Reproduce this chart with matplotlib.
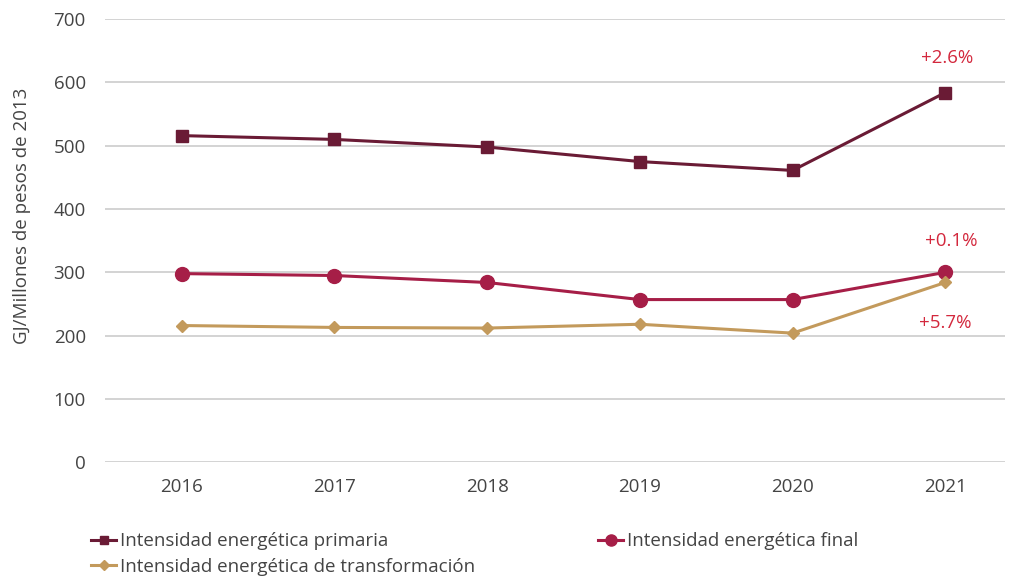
import matplotlib
matplotlib.use("Agg")
import matplotlib.pyplot as plt
from matplotlib.lines import Line2D

# Energy intensity series (GJ per million pesos of 2013)
years = ["2016", "2017", "2018", "2019", "2020", "2021"]
primaria = [516, 510, 498, 475, 461, 584]
final = [298, 295, 284, 257, 257, 300]
transformacion = [216, 213, 212, 218, 204, 284]

labels = ["Intensidad energética primaria",
          "Intensidad energética final",
          "Intensidad energética de transformación"]
changes = ["+2.6%", "+0.1%", "+5.7%"]

yticks = [0, 100, 200, 300, 400, 500, 600, 700]

c_prim = "#6a1b35"
c_final = "#a61e47"
c_trans = "#c39a5c"
c_note = "#d3283d"
c_text = "#444444"

plt.rcParams["font.family"] = ["Open Sans", "DejaVu Sans"]

fig = plt.figure(figsize=(10.12, 5.8), dpi=100)
ax = fig.add_axes([0.104, 0.203, 0.889, 0.764])

x = list(range(len(years)))
ax.plot(x, primaria, color=c_prim, lw=2.2, marker="s", ms=8, zorder=3)
ax.plot(x, final, color=c_final, lw=2.2, marker="o", ms=10, zorder=3)
ax.plot(x, transformacion, color=c_trans, lw=2.2, marker="D", ms=6, zorder=3)

ax.set_xlim(-0.5, 5.39)
ax.set_ylim(0, 700)
ax.set_yticks(yticks)
ax.set_xticks(x)
ax.set_xticklabels(years)
ax.yaxis.grid(True, color="#cccccc", lw=1.2)
ax.set_axisbelow(True)
for s in ax.spines.values():
    s.set_visible(False)
ax.tick_params(axis="both", length=0, labelsize=13.5, colors=c_text)
ax.tick_params(axis="y", pad=14)
ax.tick_params(axis="x", pad=11)
ax.set_ylabel("GJ/Millones de pesos de 2013", fontsize=13.5, color=c_text)
ax.yaxis.set_label_coords(-0.082, 0.557)

ax.annotate(changes[0], (x[-1], primaria[-1]), xytext=(1, 21), textcoords="offset points",
            ha="center", color=c_note, fontsize=13.5)
ax.annotate(changes[1], (x[-1], final[-1]), xytext=(4, 19), textcoords="offset points",
            ha="center", color=c_note, fontsize=13.5)
ax.annotate(changes[2], (x[-1], transformacion[-1]), xytext=(0, -33), textcoords="offset points",
            ha="center", color=c_note, fontsize=13.5)

handles = [
    Line2D([], [], color=c_prim, lw=2.2, marker="s", ms=6),
    Line2D([], [], color=c_trans, lw=2.2, marker="D", ms=5),
    Line2D([], [], color=c_final, lw=2.2, marker="o", ms=8),
]
fig.legend(handles, [labels[0], labels[2], labels[1]], ncol=2, loc="upper left",
           bbox_to_anchor=(0.083, 0.095), frameon=False, fontsize=13.5,
           labelcolor=c_text, handlelength=1.3, handletextpad=0.2,
           columnspacing=6.6, labelspacing=0.4, borderaxespad=0)

fig.savefig("out.png", dpi=100, facecolor="white")
